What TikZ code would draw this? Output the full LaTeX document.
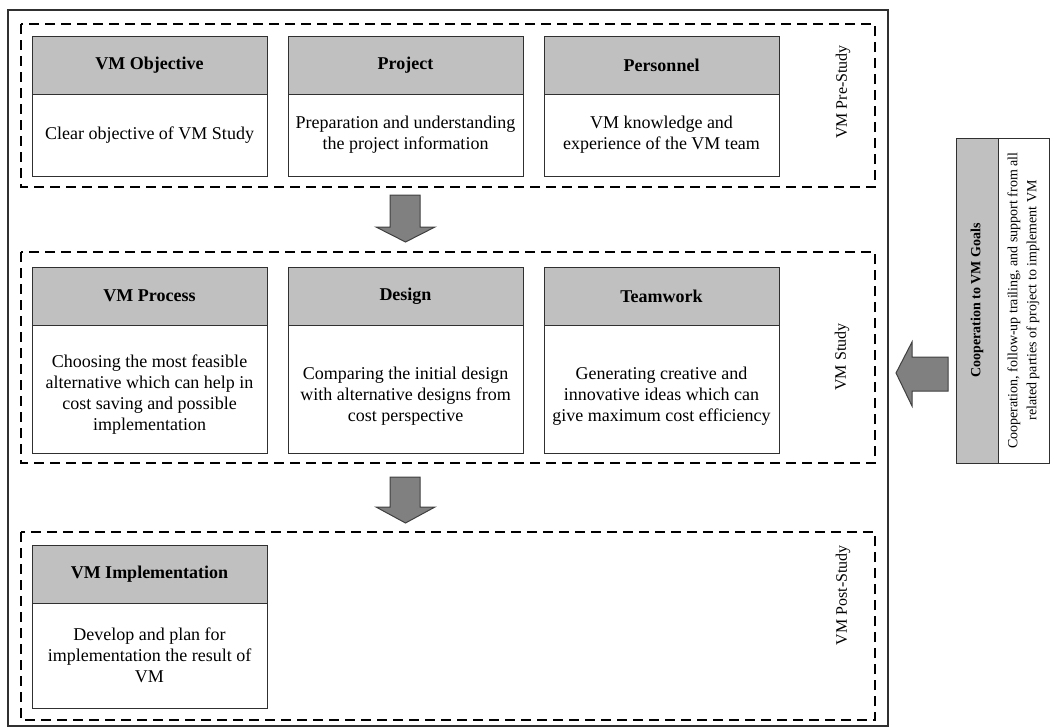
\documentclass[tikz,border=0pt]{standalone}
\usepackage{fontspec}
\setmainfont{Liberation Serif}
\definecolor{hdrgray}{HTML}{C0C0C0}
\definecolor{arrgray}{HTML}{808080}
\definecolor{linegray}{HTML}{303030}
\begin{document}
\begin{tikzpicture}[x=0.5pt,y=-0.5pt,
  font=\fontsize{9}{10.5}\selectfont,
  hdr/.style={draw=linegray, line width=0.5pt, fill=hdrgray, minimum width=117.5pt, minimum height=29pt, inner sep=0pt, font=\fontsize{9}{10.5}\selectfont\bfseries},
  body/.style={draw=linegray, line width=0.5pt, fill=white, minimum width=117.5pt, inner sep=0pt, align=center},
  phase/.style={draw=black, dash pattern=on 5pt off 3pt, line width=0.6pt},
  blockarrow/.style={draw=black!75, fill=arrgray, line width=0.5pt, line join=miter},
  sidelabel/.style={rotate=90, inner sep=0pt, font=\fontsize{8}{10}\selectfont},
  sidecard/.style={draw=linegray, line width=0.5pt, rotate=90, minimum width=162.5pt, inner sep=0pt, align=center}]
\useasboundingbox (0,0) rectangle (1050,728);
% outer frame
\draw[line width=0.6pt, draw=linegray] (8,10) rectangle (888,726);
% phase frames
\draw[phase] (21,24) rectangle (875,187);
\draw[phase] (21,252) rectangle (875,463);
\draw[phase] (21,532) rectangle (875,720);
% row 1
\node[hdr] (h11) at (149.5,65) {VM Objective};
\node[body, minimum height=41pt] (b11) at (149.5,135) {Clear objective of VM Study};
\node[hdr] (h12) at (405.5,65) {Project};
\node[body, minimum height=41pt] (b12) at (405.5,135) {Preparation and understanding\\the project information};
\node[hdr] (h13) at (661.5,65) {Personnel};
\node[body, minimum height=41pt] (b13) at (661.5,135) {VM knowledge and\\experience of the VM team};
\node[sidelabel] (lpre) at (843,92) {VM Pre-Study};
% row 2
\node[hdr] (h21) at (149.5,296) {VM Process};
\node[body, minimum height=64pt] (b21) at (149.5,389) {};
\node[align=center, inner sep=0pt] (t21) at (149.5,395) {Choosing the most feasible\\alternative which can help in\\cost saving and possible\\implementation};
\node[hdr] (h22) at (405.5,296) {Design};
\node[body, minimum height=64pt] (b22) at (405.5,389) {};
\node[align=center, inner sep=0pt] (t22) at (405.5,396) {Comparing the initial design\\with alternative designs from\\cost perspective};
\node[hdr] (h23) at (661.5,296) {Teamwork};
\node[body, minimum height=64pt] (b23) at (661.5,389) {};
\node[align=center, inner sep=0pt] (t23) at (661.5,396) {Generating creative and\\innovative ideas which can\\give maximum cost efficiency};
\node[sidelabel] (lstudy) at (842,357) {VM Study};
% row 3
\node[hdr] (h31) at (149.5,574) {VM Implementation};
\node[body, minimum height=52.5pt] (b31) at (149.5,655.5) {Develop and plan for\\implementation the result of\\VM};
\node[sidelabel] (lpost) at (843,595) {VM Post-Study};
% side card
\node[sidecard, fill=hdrgray, minimum height=21pt, font=\fontsize{7}{9}\selectfont\bfseries] (hc) at (977,300.5) {Cooperation to VM Goals};
\node[sidecard, fill=white, minimum height=25.5pt, font=\fontsize{7}{9.5}\selectfont] (bc) at (1023.5,300.5) {Cooperation, follow-up trailing, and support from all\\related parties of project to implement VM};
% block arrows
\draw[blockarrow] (390,195) -- (420,195) -- (420,227) -- (435,227) -- (405.5,242) -- (376,227) -- (390,227) -- cycle;
\draw[blockarrow] (390,477) -- (420,477) -- (420,507) -- (435,507) -- (405.5,523) -- (376,507) -- (390,507) -- cycle;
\draw[blockarrow] (948,357) -- (912,357) -- (912,342) -- (896,373) -- (912,406) -- (912,391) -- (948,391) -- cycle;
\end{tikzpicture}
\end{document}
